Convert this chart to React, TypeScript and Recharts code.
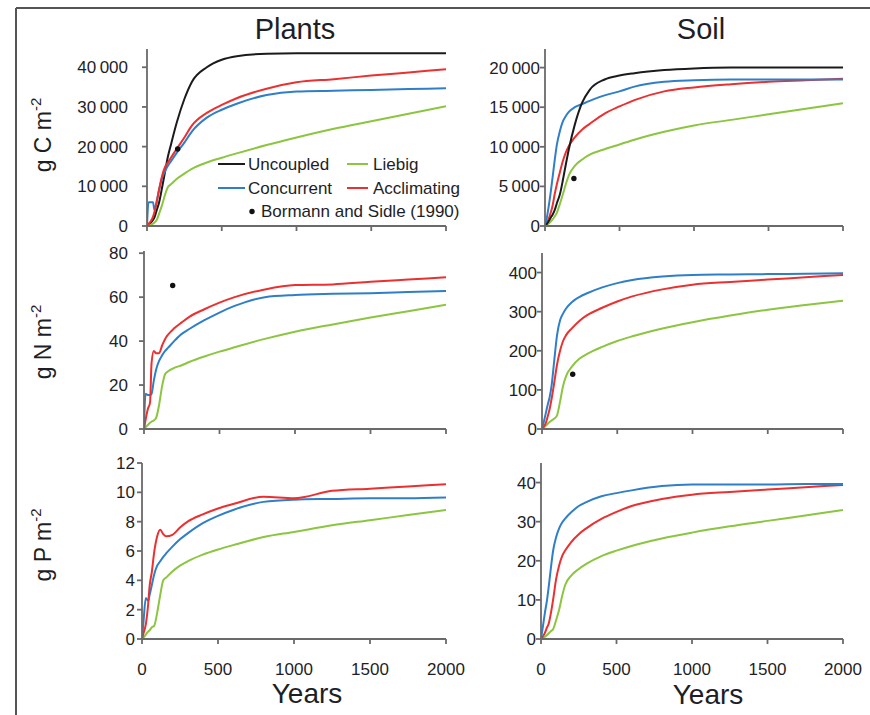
import React from 'react';
import { ComposedChart, Line, Scatter, XAxis, YAxis } from 'recharts';

// ---------- data ----------
const YEARS = [0, 10, 25, 40, 50, 65, 80, 100, 120, 140, 160, 200, 250, 300, 400, 500, 600, 800, 1000, 1250, 1500, 1750, 2000];
const X_TICKS = [0, 500, 1000, 1500, 2000];

// Plants, carbon (g C m-2)
const PLANT_C_UNCOUPLED = [0, 300, 800, 1500, 2200, 4000, 5800, 9500, 13500, 17500, 20500, 26200, 32000, 36300, 40000, 41900, 42800, 43400, 43500, 43500, 43500, 43500, 43500];
const PLANT_C_CONCURRENT = [0, 6000, 6000, 6000, 4000, 6300, 9000, 12000, 13800, 15200, 16300, 18500, 21000, 23800, 27300, 29300, 30800, 33000, 33900, 34100, 34300, 34500, 34700];
const PLANT_C_ACCLIMATING = [0, 500, 1200, 2300, 3500, 6000, 9000, 12500, 14800, 16000, 17200, 19500, 22300, 25300, 28500, 30500, 32200, 34600, 36200, 37000, 37900, 38700, 39500];
const PLANT_C_LIEBIG = [0, 100, 300, 600, 900, 1500, 3000, 5200, 7800, 9800, 10500, 11900, 13200, 14400, 16000, 17200, 18300, 20400, 22300, 24500, 26400, 28300, 30200];
const PLANT_C_OBS = [{ year: 205, value: 19400 }];

// Soil, carbon
const SOIL_C_UNCOUPLED = [0, 200, 600, 1100, 1400, 2000, 2900, 4000, 5800, 7800, 9700, 12800, 15600, 17200, 18500, 19000, 19300, 19700, 19900, 20000, 20000, 20000, 20000];
const SOIL_C_CONCURRENT = [0, 800, 2500, 4500, 6000, 8300, 10300, 12000, 13200, 13900, 14400, 15000, 15400, 15800, 16500, 17000, 17600, 18200, 18400, 18500, 18500, 18500, 18500];
const SOIL_C_ACCLIMATING = [0, 300, 900, 1800, 2500, 4000, 5300, 6800, 8200, 9300, 10100, 11200, 12200, 12900, 14200, 15100, 15900, 17000, 17500, 17900, 18200, 18400, 18600];
const SOIL_C_LIEBIG = [0, 100, 300, 600, 800, 1200, 1700, 2800, 4000, 5300, 6400, 7600, 8400, 9000, 9700, 10300, 10900, 11900, 12700, 13400, 14100, 14800, 15500];
const SOIL_C_OBS = [{ year: 194, value: 6000 }];

// Plants, nitrogen (g N m-2)
const PLANT_N_CONCURRENT = [0, 16, 15.5, 15.5, 16, 22, 27, 31, 33.5, 35.5, 37, 40, 43.3, 45.5, 49.5, 53, 56, 60, 61, 61.5, 61.8, 62.3, 62.8];
const PLANT_N_ACCLIMATING = [0, 4, 9, 12, 30, 35.5, 34.5, 34.5, 38, 41, 43, 45.8, 48.5, 51, 54.5, 57.5, 60, 63.5, 65.5, 65.8, 67, 68, 69];
const PLANT_N_LIEBIG = [0, 0.8, 1.8, 2.8, 3.3, 3.9, 5, 11, 19.5, 25, 26.3, 27.8, 29, 30.5, 33, 35.2, 37.2, 41, 44.3, 47.6, 50.7, 53.6, 56.5];
const PLANT_N_OBS = [{ year: 190, value: 65.3 }];

// Soil, nitrogen
const SOIL_N_CONCURRENT = [0, 15, 40, 65, 80, 115, 170, 240, 278, 295, 308, 325, 338, 347, 362, 373, 381, 390, 394, 395, 396, 397, 398];
const SOIL_N_ACCLIMATING = [0, 5, 15, 35, 50, 80, 115, 165, 200, 225, 240, 258, 277, 291, 310, 326, 339, 357, 369, 376, 382, 388, 394];
const SOIL_N_LIEBIG = [0, 3, 8, 14, 18, 22, 26, 35, 70, 110, 135, 160, 180, 192, 210, 225, 237, 257, 273, 290, 305, 317, 328];
const SOIL_N_OBS = [{ year: 204, value: 140 }];

// Plants, phosphorus (g P m-2)
const PLANT_P_CONCURRENT = [0, 1.2, 2.8, 2.6, 3.0, 3.7, 4.4, 5.0, 5.3, 5.6, 5.85, 6.3, 6.8, 7.2, 7.9, 8.4, 8.8, 9.35, 9.5, 9.55, 9.6, 9.6, 9.65];
const PLANT_P_ACCLIMATING = [0, 0.4, 1.0, 2.3, 3.6, 4.6, 5.9, 7.0, 7.45, 7.15, 7.0, 7.1, 7.6, 8.0, 8.5, 8.9, 9.2, 9.7, 9.6, 10.1, 10.25, 10.4, 10.55];
const PLANT_P_LIEBIG = [0, 0.1, 0.3, 0.5, 0.6, 0.8, 0.9, 1.8, 3.0, 4.0, 4.2, 4.6, 5.0, 5.3, 5.75, 6.1, 6.4, 6.95, 7.3, 7.75, 8.1, 8.45, 8.8];

// Soil, phosphorus
const SOIL_P_CONCURRENT = [0, 2.5, 6.5, 10, 13, 18, 22.5, 26, 28.3, 29.8, 30.8, 32.4, 34, 35, 36.5, 37.3, 38, 39.1, 39.5, 39.5, 39.5, 39.6, 39.6];
const SOIL_P_ACCLIMATING = [0, 0.5, 1.5, 3, 3.8, 6.5, 10, 15.3, 18.8, 21.2, 22.6, 24.8, 26.8, 28.3, 30.7, 32.5, 34, 35.8, 36.9, 37.6, 38.2, 38.8, 39.4];
const SOIL_P_LIEBIG = [0, 0.2, 0.5, 1, 1.4, 2, 2.5, 4.8, 7.5, 11, 13.8, 16.2, 17.9, 19.2, 21.2, 22.6, 23.8, 25.7, 27.2, 28.8, 30.2, 31.6, 33];

const C_PLANT_TICKS = [0, 10000, 20000, 30000, 40000];
const C_SOIL_TICKS = [0, 5000, 10000, 15000, 20000];
const N_PLANT_TICKS = [0, 20, 40, 60, 80];
const N_SOIL_TICKS = [0, 100, 200, 300, 400];
const P_PLANT_TICKS = [0, 2, 4, 6, 8, 10, 12];
const P_SOIL_TICKS = [0, 10, 20, 30, 40];

// ---------- styling ----------
const FONT = '"Liberation Sans", Arial, Helvetica, sans-serif';
const AXIS = '#6a6a6a';
const TEXT = '#1e1e26';
const COLORS: Record<string, string> = {
  uncoupled: '#1b1b1b',
  concurrent: '#2f7fc8',
  acclimating: '#ec2f2f',
  liebig: '#8cc540',
};

type Series = Record<string, number[]>;

function buildRows(series: Series) {
  return YEARS.map((year, i) => {
    const row: Record<string, number> = { year };
    Object.keys(series).forEach((k) => {
      row[k] = series[k][i];
    });
    return row;
  });
}

function fmtThousands(v: number) {
  if (v < 1000) return String(v);
  const th = Math.floor(v / 1000);
  const rest = String(v % 1000).padStart(3, '0');
  return `${th}\u2009${rest}`;
}

type PanelProps = {
  plotLeft: number;
  plotTop: number;
  plotW: number;
  plotH: number;
  series: Series;
  obs?: { year: number; value: number }[];
  yDomain: [number, number];
  yTicks: number[];
  yTickMargin: number;
  showX: boolean;
  thousands?: boolean;
};

function Panel(p: PanelProps) {
  const YW = 90;
  const XH = p.showX ? 45 : 12;
  const MT = 14;
  const MR = 32;
  const rows = buildRows(p.series);
  const tickStyle = { fill: TEXT, fontSize: 17, fontFamily: FONT };
  return (
    <div style={{ position: 'absolute', left: p.plotLeft - YW, top: p.plotTop - MT }}>
      <ComposedChart
        width={YW + p.plotW + MR}
        height={MT + p.plotH + XH}
        data={rows}
        margin={{ top: MT, right: MR, bottom: 0, left: 0 }}
      >
        <XAxis
          type="number"
          dataKey="year"
          domain={[0, 2000]}
          ticks={X_TICKS}
          interval={0}
          height={XH}
          stroke={AXIS}
          strokeWidth={1.8}
          tickSize={5}
          tickMargin={19}
          tick={tickStyle}
          tickFormatter={p.showX ? (v: number) => String(v) : () => ''}
          allowDataOverflow
        />
        <YAxis
          type="number"
          domain={p.yDomain}
          ticks={p.yTicks}
          interval={0}
          width={YW}
          stroke={AXIS}
          strokeWidth={1.8}
          tickSize={5}
          tickMargin={p.yTickMargin}
          tick={tickStyle}
          tickFormatter={p.thousands ? fmtThousands : (v: number) => String(v)}
          allowDataOverflow
        />
        {Object.keys(p.series).map((k) => (
          <Line
            key={k}
            type="monotone"
            dataKey={k}
            stroke={COLORS[k]}
            strokeWidth={2}
            dot={false}
            activeDot={false}
            isAnimationActive={false}
          />
        ))}
        {p.obs && (
          <Scatter
            data={p.obs}
            dataKey="value"
            fill="#111"
            isAnimationActive={false}
            shape={(props: any) => <circle cx={props.cx} cy={props.cy} r={2.7} fill="#111" />}
          />
        )}
      </ComposedChart>
    </div>
  );
}

function YLabel({ x, y, el }: { x: number; y: number; el: string }) {
  return (
    <text
      x={x}
      y={y}
      transform={`rotate(-90 ${x} ${y})`}
      textAnchor="middle"
      fontFamily={FONT}
      fontSize={23}
      fill={TEXT}
    >
      {`g ${el} m`}
      <tspan dy={-10} fontSize={15}>-2</tspan>
    </text>
  );
}

export default function App() {
  return (
    <div
      style={{
        position: 'absolute',
        left: 0,
        top: 0,
        width: 870,
        height: 715,
        background: '#fff',
        overflow: 'hidden',
      }}
    >
      <Panel
        plotLeft={147}
        plotTop={49}
        plotW={299}
        plotH={177}
        series={{
          uncoupled: PLANT_C_UNCOUPLED,
          liebig: PLANT_C_LIEBIG,
          concurrent: PLANT_C_CONCURRENT,
          acclimating: PLANT_C_ACCLIMATING,
        }}
        obs={PLANT_C_OBS}
        yDomain={[0, 44600]}
        yTicks={C_PLANT_TICKS}
        yTickMargin={14}
        showX={false}
        thousands
      />
      <Panel
        plotLeft={545}
        plotTop={49}
        plotW={298}
        plotH={177}
        series={{
          liebig: SOIL_C_LIEBIG,
          acclimating: SOIL_C_ACCLIMATING,
          concurrent: SOIL_C_CONCURRENT,
          uncoupled: SOIL_C_UNCOUPLED,
        }}
        obs={SOIL_C_OBS}
        yDomain={[0, 22350]}
        yTicks={C_SOIL_TICKS}
        yTickMargin={0}
        showX={false}
        thousands
      />
      <Panel
        plotLeft={144}
        plotTop={251}
        plotW={302}
        plotH={178}
        series={{
          liebig: PLANT_N_LIEBIG,
          concurrent: PLANT_N_CONCURRENT,
          acclimating: PLANT_N_ACCLIMATING,
        }}
        obs={PLANT_N_OBS}
        yDomain={[0, 81]}
        yTicks={N_PLANT_TICKS}
        yTickMargin={11}
        showX={false}
      />
      <Panel
        plotLeft={542}
        plotTop={253}
        plotW={301}
        plotH={176}
        series={{
          liebig: SOIL_N_LIEBIG,
          acclimating: SOIL_N_ACCLIMATING,
          concurrent: SOIL_N_CONCURRENT,
        }}
        obs={SOIL_N_OBS}
        yDomain={[0, 450]}
        yTicks={N_SOIL_TICKS}
        yTickMargin={0}
        showX={false}
      />
      <Panel
        plotLeft={142}
        plotTop={463}
        plotW={304}
        plotH={176}
        series={{
          liebig: PLANT_P_LIEBIG,
          concurrent: PLANT_P_CONCURRENT,
          acclimating: PLANT_P_ACCLIMATING,
        }}
        yDomain={[0, 12]}
        yTicks={P_PLANT_TICKS}
        yTickMargin={2}
        showX
      />
      <Panel
        plotLeft={541}
        plotTop={463}
        plotW={302}
        plotH={176}
        series={{
          liebig: SOIL_P_LIEBIG,
          acclimating: SOIL_P_ACCLIMATING,
          concurrent: SOIL_P_CONCURRENT,
        }}
        yDomain={[0, 45]}
        yTicks={P_SOIL_TICKS}
        yTickMargin={0}
        showX
      />

      <svg
        width={870}
        height={715}
        style={{ position: 'absolute', left: 0, top: 0, pointerEvents: 'none' }}
      >
        <line x1={16} y1={8} x2={870} y2={8} stroke="#555" strokeWidth={2} />
        <line x1={16} y1={8} x2={16} y2={715} stroke="#555" strokeWidth={2} />

        <text x={295} y={39} textAnchor="middle" fontFamily={FONT} fontSize={29} fill={TEXT}>Plants</text>
        <text x={701} y={39} textAnchor="middle" fontFamily={FONT} fontSize={29} fill={TEXT}>Soil</text>

        <YLabel x={51} y={135} el="C" />
        <YLabel x={51} y={342} el="N" />
        <YLabel x={51} y={545} el="P" />

        <text x={307} y={703} textAnchor="middle" fontFamily={FONT} fontSize={28} fill={TEXT}>Years</text>
        <text x={708} y={704} textAnchor="middle" fontFamily={FONT} fontSize={28} fill={TEXT}>Years</text>

        <g fontFamily={FONT} fontSize={17} fill={TEXT}>
          <line x1={218} y1={164} x2={245} y2={164} stroke={COLORS.uncoupled} strokeWidth={2} />
          <text x={248} y={169.5}>Uncoupled</text>
          <line x1={347} y1={164} x2={368} y2={164} stroke={COLORS.liebig} strokeWidth={2} />
          <text x={373} y={169.5}>Liebig</text>
          <line x1={218} y1={188} x2={245} y2={188} stroke={COLORS.concurrent} strokeWidth={2} />
          <text x={248} y={193.5}>Concurrent</text>
          <line x1={347} y1={188} x2={368} y2={188} stroke={COLORS.acclimating} strokeWidth={2} />
          <text x={373} y={193.5}>Acclimating</text>
          <circle cx={252} cy={211.5} r={2.7} fill="#111" />
          <text x={261} y={217}>Bormann and Sidle (1990)</text>
        </g>
      </svg>
    </div>
  );
}
